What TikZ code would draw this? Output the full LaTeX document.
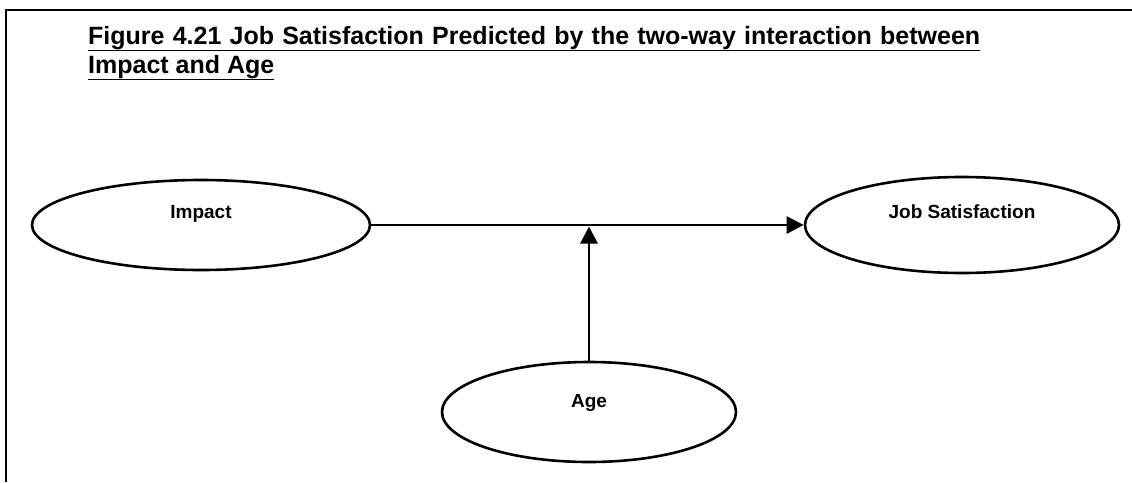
\documentclass[tikz,border=0pt]{standalone}
\usepackage{fontspec}
\setmainfont{Liberation Sans}
\usetikzlibrary{arrows.meta, shapes.geometric, positioning}

\tikzset{
  var/.style={ellipse, draw, line width=2.6pt, inner sep=0pt},
  lbl/.style={font=\fontsize{19}{23}\selectfont\bfseries},
  heading/.style={font=\fontsize{25}{29}\selectfont\bfseries, inner sep=0pt},
  link/.style={line width=2.8pt, -{Triangle[length=17pt,width=17pt]}},
}

\begin{document}
\begin{tikzpicture}[x=1pt,y=-1pt]
\useasboundingbox (0,0) rectangle (1132,482);
% frame, cut off at right and bottom
\draw[line width=2.2pt] (6,482) -- (6,10) -- (1132,10);

% first title line is justified
\node[heading, anchor=base west] (title1) at (88,44)
  {\underline{\makebox[892pt][s]{Figure 4.21 Job Satisfaction Predicted by the two-way interaction between}}};
\node[heading, anchor=base west] (title2) at (88,73)
  {\underline{Impact and Age}};

\node[var, minimum width=338pt, minimum height=90pt] (impact) at (201,225) {};
\node[var, minimum width=314pt, minimum height=96pt] (jobsat) at (962,225) {};
\node[var, minimum width=294pt, minimum height=100pt] (age) at (589,412) {};

\node[lbl] (impactlbl) at ([yshift=11pt]impact.center) {Impact};
\node[lbl] (jobsatlbl) at ([yshift=13pt]jobsat.center) {Job Satisfaction};
\node[lbl] (agelbl) at ([yshift=9pt]age.center) {Age};

\draw[link] (impact.east) -- (jobsat.west);
\draw[link] (age.north) -- ([yshift=-1.5pt]age.north |- impact.east);
\end{tikzpicture}
\end{document}
